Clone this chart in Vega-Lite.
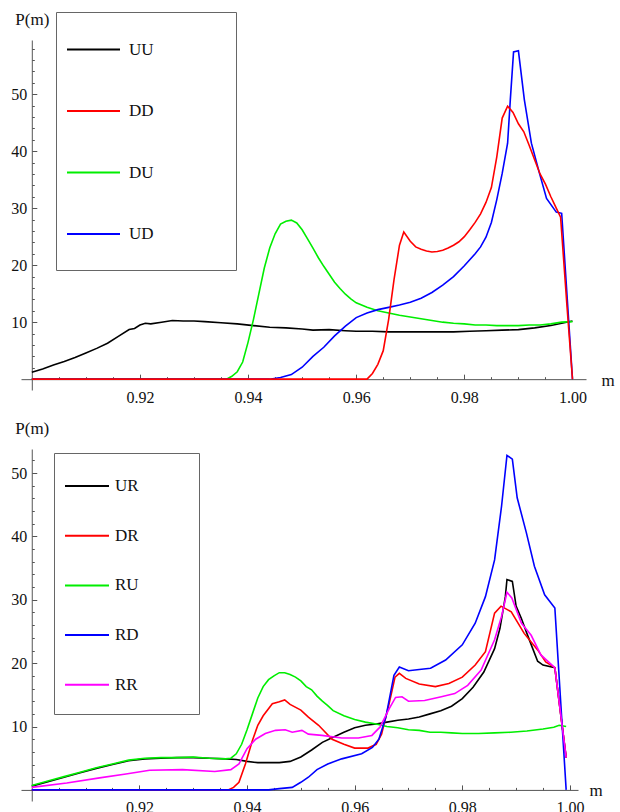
{
  "$schema": "https://vega.github.io/schema/vega-lite/v6.json",
  "background": "white",
  "padding": {"left": 10, "top": 10, "right": 0, "bottom": 0},
  "spacing": 13,
  "resolve": {"scale": {"color": "independent"}, "legend": {"color": "independent"}},
  "config": {
    "view": {"stroke": null},
    "font": "Liberation Serif",
    "axis": {
      "grid": false,
      "domainColor": "#555555",
      "tickColor": "#555555",
      "labelColor": "#111111",
      "labelFont": "Liberation Serif",
      "labelFontSize": 16,
      "titleFont": "Liberation Serif",
      "titleFontSize": 17,
      "titleFontWeight": "normal",
      "titleColor": "#111111",
      "labelFlush": false,
      "labelOverlap": false
    },
    "legend": {
      "orient": "none",
      "symbolType": "stroke",
      "symbolStrokeWidth": 2,
      "labelFont": "Liberation Serif",
      "labelFontSize": 17,
      "labelColor": "#111111",
      "labelLimit": 400,
      "strokeColor": "#666666",
      "fillColor": "white",
      "padding": 10,
      "titleOrient": "bottom",
      "titleColor": "white"
    }
  },
  "datasets": {
    "top": [
      {"m":0.900,"p":1.2,"s":"UU"},{"m":0.902,"p":1.8,"s":"UU"},{"m":0.904,"p":2.5,"s":"UU"},{"m":0.906,"p":3.1,"s":"UU"},{"m":0.908,"p":3.8,"s":"UU"},{"m":0.910,"p":4.6,"s":"UU"},{"m":0.912,"p":5.4,"s":"UU"},{"m":0.914,"p":6.3,"s":"UU"},{"m":0.916,"p":7.5,"s":"UU"},{"m":0.918,"p":8.7,"s":"UU"},{"m":0.919,"p":8.9,"s":"UU"},{"m":0.920,"p":9.5,"s":"UU"},{"m":0.921,"p":9.8,"s":"UU"},{"m":0.922,"p":9.7,"s":"UU"},{"m":0.924,"p":10.0,"s":"UU"},{"m":0.926,"p":10.3,"s":"UU"},{"m":0.928,"p":10.2,"s":"UU"},{"m":0.930,"p":10.2,"s":"UU"},{"m":0.932,"p":10.1,"s":"UU"},{"m":0.935,"p":9.9,"s":"UU"},{"m":0.938,"p":9.7,"s":"UU"},{"m":0.941,"p":9.4,"s":"UU"},{"m":0.944,"p":9.1,"s":"UU"},{"m":0.947,"p":9.0,"s":"UU"},{"m":0.950,"p":8.8,"s":"UU"},{"m":0.952,"p":8.6,"s":"UU"},{"m":0.955,"p":8.7,"s":"UU"},{"m":0.958,"p":8.5,"s":"UU"},{"m":0.960,"p":8.4,"s":"UU"},{"m":0.963,"p":8.4,"s":"UU"},{"m":0.966,"p":8.3,"s":"UU"},{"m":0.969,"p":8.3,"s":"UU"},{"m":0.972,"p":8.3,"s":"UU"},{"m":0.975,"p":8.3,"s":"UU"},{"m":0.978,"p":8.3,"s":"UU"},{"m":0.981,"p":8.4,"s":"UU"},{"m":0.984,"p":8.5,"s":"UU"},{"m":0.987,"p":8.6,"s":"UU"},{"m":0.990,"p":8.7,"s":"UU"},{"m":0.993,"p":9.0,"s":"UU"},{"m":0.996,"p":9.4,"s":"UU"},{"m":0.998,"p":9.8,"s":"UU"},{"m":1.000,"p":10.2,"s":"UU"},
      {"m":0.900,"p":0,"s":"DU"},{"m":0.936,"p":0,"s":"DU"},{"m":0.937,"p":0.5,"s":"DU"},{"m":0.938,"p":1.3,"s":"DU"},{"m":0.939,"p":3.0,"s":"DU"},{"m":0.940,"p":6.5,"s":"DU"},{"m":0.941,"p":10.5,"s":"DU"},{"m":0.942,"p":15.0,"s":"DU"},{"m":0.943,"p":19.5,"s":"DU"},{"m":0.944,"p":23.0,"s":"DU"},{"m":0.945,"p":25.5,"s":"DU"},{"m":0.946,"p":27.2,"s":"DU"},{"m":0.947,"p":27.7,"s":"DU"},{"m":0.948,"p":27.9,"s":"DU"},{"m":0.949,"p":27.4,"s":"DU"},{"m":0.950,"p":26.2,"s":"DU"},{"m":0.951,"p":24.6,"s":"DU"},{"m":0.952,"p":23.0,"s":"DU"},{"m":0.953,"p":21.3,"s":"DU"},{"m":0.954,"p":19.8,"s":"DU"},{"m":0.955,"p":18.4,"s":"DU"},{"m":0.956,"p":17.0,"s":"DU"},{"m":0.957,"p":15.9,"s":"DU"},{"m":0.958,"p":14.9,"s":"DU"},{"m":0.959,"p":14.1,"s":"DU"},{"m":0.960,"p":13.4,"s":"DU"},{"m":0.961,"p":13.0,"s":"DU"},{"m":0.962,"p":12.6,"s":"DU"},{"m":0.963,"p":12.3,"s":"DU"},{"m":0.964,"p":12.0,"s":"DU"},{"m":0.966,"p":11.6,"s":"DU"},{"m":0.968,"p":11.2,"s":"DU"},{"m":0.970,"p":10.9,"s":"DU"},{"m":0.972,"p":10.6,"s":"DU"},{"m":0.974,"p":10.3,"s":"DU"},{"m":0.976,"p":10.0,"s":"DU"},{"m":0.978,"p":9.8,"s":"DU"},{"m":0.980,"p":9.7,"s":"DU"},{"m":0.982,"p":9.5,"s":"DU"},{"m":0.984,"p":9.5,"s":"DU"},{"m":0.986,"p":9.4,"s":"DU"},{"m":0.988,"p":9.4,"s":"DU"},{"m":0.990,"p":9.4,"s":"DU"},{"m":0.992,"p":9.5,"s":"DU"},{"m":0.994,"p":9.5,"s":"DU"},{"m":0.996,"p":9.7,"s":"DU"},{"m":0.998,"p":10.0,"s":"DU"},{"m":1.000,"p":10.1,"s":"DU"},
      {"m":0.900,"p":0,"s":"UD"},{"m":0.944,"p":0,"s":"UD"},{"m":0.946,"p":0.3,"s":"UD"},{"m":0.948,"p":0.8,"s":"UD"},{"m":0.950,"p":2.1,"s":"UD"},{"m":0.952,"p":4.0,"s":"UD"},{"m":0.954,"p":5.6,"s":"UD"},{"m":0.956,"p":7.6,"s":"UD"},{"m":0.958,"p":9.3,"s":"UD"},{"m":0.960,"p":10.8,"s":"UD"},{"m":0.962,"p":11.6,"s":"UD"},{"m":0.964,"p":12.2,"s":"UD"},{"m":0.966,"p":12.6,"s":"UD"},{"m":0.968,"p":13.0,"s":"UD"},{"m":0.970,"p":13.5,"s":"UD"},{"m":0.972,"p":14.2,"s":"UD"},{"m":0.974,"p":15.2,"s":"UD"},{"m":0.976,"p":16.5,"s":"UD"},{"m":0.978,"p":18.0,"s":"UD"},{"m":0.980,"p":19.9,"s":"UD"},{"m":0.982,"p":22.0,"s":"UD"},{"m":0.983,"p":23.2,"s":"UD"},{"m":0.984,"p":24.9,"s":"UD"},{"m":0.985,"p":27.5,"s":"UD"},{"m":0.986,"p":31.5,"s":"UD"},{"m":0.987,"p":36.1,"s":"UD"},{"m":0.988,"p":41.4,"s":"UD"},{"m":0.9885,"p":49.0,"s":"UD"},{"m":0.9891,"p":57.4,"s":"UD"},{"m":0.990,"p":57.6,"s":"UD"},{"m":0.9911,"p":49.0,"s":"UD"},{"m":0.9924,"p":41.4,"s":"UD"},{"m":0.9939,"p":36.1,"s":"UD"},{"m":0.9952,"p":31.7,"s":"UD"},{"m":0.997,"p":29.3,"s":"UD"},{"m":0.998,"p":29.1,"s":"UD"},{"m":1.000,"p":0,"s":"UD"},
      {"m":0.900,"p":0,"s":"DD"},{"m":0.962,"p":0,"s":"DD"},{"m":0.963,"p":1.0,"s":"DD"},{"m":0.964,"p":2.6,"s":"DD"},{"m":0.965,"p":5.0,"s":"DD"},{"m":0.966,"p":10.5,"s":"DD"},{"m":0.967,"p":17.5,"s":"DD"},{"m":0.968,"p":23.5,"s":"DD"},{"m":0.9688,"p":25.8,"s":"DD"},{"m":0.970,"p":24.2,"s":"DD"},{"m":0.971,"p":23.2,"s":"DD"},{"m":0.972,"p":22.8,"s":"DD"},{"m":0.973,"p":22.5,"s":"DD"},{"m":0.974,"p":22.3,"s":"DD"},{"m":0.975,"p":22.4,"s":"DD"},{"m":0.976,"p":22.6,"s":"DD"},{"m":0.977,"p":23.0,"s":"DD"},{"m":0.978,"p":23.5,"s":"DD"},{"m":0.979,"p":24.1,"s":"DD"},{"m":0.980,"p":25.0,"s":"DD"},{"m":0.981,"p":26.2,"s":"DD"},{"m":0.982,"p":27.5,"s":"DD"},{"m":0.983,"p":29.0,"s":"DD"},{"m":0.984,"p":31.0,"s":"DD"},{"m":0.985,"p":33.6,"s":"DD"},{"m":0.986,"p":39.0,"s":"DD"},{"m":0.987,"p":45.8,"s":"DD"},{"m":0.988,"p":47.9,"s":"DD"},{"m":0.989,"p":46.8,"s":"DD"},{"m":0.990,"p":44.8,"s":"DD"},{"m":0.991,"p":43.4,"s":"DD"},{"m":0.992,"p":41.0,"s":"DD"},{"m":0.993,"p":38.5,"s":"DD"},{"m":0.994,"p":36.0,"s":"DD"},{"m":0.995,"p":34.2,"s":"DD"},{"m":0.996,"p":32.0,"s":"DD"},{"m":0.997,"p":30.0,"s":"DD"},{"m":0.9978,"p":28.4,"s":"DD"},{"m":0.999,"p":12.6,"s":"DD"},{"m":1.000,"p":0,"s":"DD"}
    ],
    "bottom": [
      {"m":0.900,"p":0.6,"s":"UR"},{"m":0.903,"p":1.3,"s":"UR"},{"m":0.906,"p":2.0,"s":"UR"},{"m":0.909,"p":2.7,"s":"UR"},{"m":0.912,"p":3.4,"s":"UR"},{"m":0.915,"p":4.0,"s":"UR"},{"m":0.918,"p":4.6,"s":"UR"},{"m":0.921,"p":4.9,"s":"UR"},{"m":0.924,"p":5.0,"s":"UR"},{"m":0.927,"p":5.1,"s":"UR"},{"m":0.930,"p":5.1,"s":"UR"},{"m":0.933,"p":5.0,"s":"UR"},{"m":0.936,"p":4.9,"s":"UR"},{"m":0.938,"p":4.8,"s":"UR"},{"m":0.940,"p":4.5,"s":"UR"},{"m":0.942,"p":4.3,"s":"UR"},{"m":0.944,"p":4.3,"s":"UR"},{"m":0.946,"p":4.3,"s":"UR"},{"m":0.948,"p":4.5,"s":"UR"},{"m":0.950,"p":5.2,"s":"UR"},{"m":0.952,"p":6.3,"s":"UR"},{"m":0.954,"p":7.5,"s":"UR"},{"m":0.956,"p":8.3,"s":"UR"},{"m":0.958,"p":9.1,"s":"UR"},{"m":0.960,"p":9.8,"s":"UR"},{"m":0.962,"p":10.2,"s":"UR"},{"m":0.964,"p":10.4,"s":"UR"},{"m":0.966,"p":10.7,"s":"UR"},{"m":0.968,"p":11.0,"s":"UR"},{"m":0.970,"p":11.2,"s":"UR"},{"m":0.972,"p":11.5,"s":"UR"},{"m":0.974,"p":12.0,"s":"UR"},{"m":0.976,"p":12.5,"s":"UR"},{"m":0.978,"p":13.2,"s":"UR"},{"m":0.980,"p":14.4,"s":"UR"},{"m":0.982,"p":16.2,"s":"UR"},{"m":0.984,"p":18.6,"s":"UR"},{"m":0.986,"p":22.3,"s":"UR"},{"m":0.987,"p":25.5,"s":"UR"},{"m":0.988,"p":30.5,"s":"UR"},{"m":0.9883,"p":33.2,"s":"UR"},{"m":0.9893,"p":32.9,"s":"UR"},{"m":0.990,"p":29.0,"s":"UR"},{"m":0.991,"p":27.0,"s":"UR"},{"m":0.992,"p":24.7,"s":"UR"},{"m":0.993,"p":22.5,"s":"UR"},{"m":0.994,"p":20.3,"s":"UR"},{"m":0.995,"p":19.7,"s":"UR"},{"m":0.9972,"p":19.3,"s":"UR"},{"m":0.9993,"p":5.1,"s":"UR"},
      {"m":0.900,"p":0,"s":"DR"},{"m":0.9365,"p":0,"s":"DR"},{"m":0.9375,"p":0.4,"s":"DR"},{"m":0.9385,"p":1.2,"s":"DR"},{"m":0.9397,"p":4.1,"s":"DR"},{"m":0.941,"p":7.8,"s":"DR"},{"m":0.942,"p":10.2,"s":"DR"},{"m":0.943,"p":11.7,"s":"DR"},{"m":0.9447,"p":13.6,"s":"DR"},{"m":0.946,"p":13.9,"s":"DR"},{"m":0.947,"p":14.2,"s":"DR"},{"m":0.948,"p":13.5,"s":"DR"},{"m":0.950,"p":12.6,"s":"DR"},{"m":0.9514,"p":11.5,"s":"DR"},{"m":0.9533,"p":10.2,"s":"DR"},{"m":0.9558,"p":8.0,"s":"DR"},{"m":0.958,"p":7.2,"s":"DR"},{"m":0.960,"p":6.6,"s":"DR"},{"m":0.9625,"p":6.6,"s":"DR"},{"m":0.964,"p":7.2,"s":"DR"},{"m":0.965,"p":8.8,"s":"DR"},{"m":0.9664,"p":13.6,"s":"DR"},{"m":0.9675,"p":17.8,"s":"DR"},{"m":0.9683,"p":18.4,"s":"DR"},{"m":0.9695,"p":17.6,"s":"DR"},{"m":0.972,"p":16.7,"s":"DR"},{"m":0.975,"p":16.3,"s":"DR"},{"m":0.9775,"p":16.8,"s":"DR"},{"m":0.980,"p":17.8,"s":"DR"},{"m":0.9824,"p":19.7,"s":"DR"},{"m":0.9843,"p":21.8,"s":"DR"},{"m":0.986,"p":27.9,"s":"DR"},{"m":0.9872,"p":29.0,"s":"DR"},{"m":0.9891,"p":28.1,"s":"DR"},{"m":0.9915,"p":24.7,"s":"DR"},{"m":0.994,"p":22.1,"s":"DR"},{"m":0.9955,"p":20.2,"s":"DR"},{"m":0.9972,"p":19.3,"s":"DR"},{"m":0.9993,"p":5.1,"s":"DR"},
      {"m":0.900,"p":0.7,"s":"RU"},{"m":0.903,"p":1.4,"s":"RU"},{"m":0.906,"p":2.1,"s":"RU"},{"m":0.909,"p":2.8,"s":"RU"},{"m":0.912,"p":3.5,"s":"RU"},{"m":0.915,"p":4.1,"s":"RU"},{"m":0.918,"p":4.7,"s":"RU"},{"m":0.921,"p":5.0,"s":"RU"},{"m":0.924,"p":5.1,"s":"RU"},{"m":0.927,"p":5.1,"s":"RU"},{"m":0.930,"p":5.2,"s":"RU"},{"m":0.933,"p":5.0,"s":"RU"},{"m":0.936,"p":4.9,"s":"RU"},{"m":0.937,"p":5.0,"s":"RU"},{"m":0.938,"p":5.7,"s":"RU"},{"m":0.939,"p":7.2,"s":"RU"},{"m":0.940,"p":9.5,"s":"RU"},{"m":0.941,"p":12.0,"s":"RU"},{"m":0.942,"p":14.5,"s":"RU"},{"m":0.943,"p":16.3,"s":"RU"},{"m":0.944,"p":17.4,"s":"RU"},{"m":0.945,"p":18.0,"s":"RU"},{"m":0.946,"p":18.5,"s":"RU"},{"m":0.947,"p":18.5,"s":"RU"},{"m":0.948,"p":18.2,"s":"RU"},{"m":0.949,"p":17.8,"s":"RU"},{"m":0.950,"p":17.2,"s":"RU"},{"m":0.951,"p":16.3,"s":"RU"},{"m":0.952,"p":15.8,"s":"RU"},{"m":0.953,"p":14.8,"s":"RU"},{"m":0.954,"p":14.0,"s":"RU"},{"m":0.955,"p":13.3,"s":"RU"},{"m":0.956,"p":12.5,"s":"RU"},{"m":0.958,"p":11.7,"s":"RU"},{"m":0.960,"p":11.1,"s":"RU"},{"m":0.962,"p":10.7,"s":"RU"},{"m":0.964,"p":10.4,"s":"RU"},{"m":0.966,"p":10.0,"s":"RU"},{"m":0.968,"p":9.8,"s":"RU"},{"m":0.970,"p":9.5,"s":"RU"},{"m":0.972,"p":9.4,"s":"RU"},{"m":0.974,"p":9.1,"s":"RU"},{"m":0.976,"p":9.1,"s":"RU"},{"m":0.978,"p":9.0,"s":"RU"},{"m":0.980,"p":8.9,"s":"RU"},{"m":0.983,"p":8.9,"s":"RU"},{"m":0.986,"p":9.0,"s":"RU"},{"m":0.989,"p":9.1,"s":"RU"},{"m":0.992,"p":9.3,"s":"RU"},{"m":0.995,"p":9.6,"s":"RU"},{"m":0.997,"p":9.9,"s":"RU"},{"m":0.998,"p":10.2,"s":"RU"},{"m":0.9993,"p":10.0,"s":"RU"},
      {"m":0.900,"p":0,"s":"RD"},{"m":0.944,"p":0,"s":"RD"},{"m":0.946,"p":0.2,"s":"RD"},{"m":0.9484,"p":0.4,"s":"RD"},{"m":0.950,"p":1.2,"s":"RD"},{"m":0.9514,"p":2.0,"s":"RD"},{"m":0.953,"p":3.2,"s":"RD"},{"m":0.955,"p":4.1,"s":"RD"},{"m":0.9576,"p":4.9,"s":"RD"},{"m":0.9613,"p":5.7,"s":"RD"},{"m":0.9633,"p":6.7,"s":"RD"},{"m":0.9645,"p":8.0,"s":"RD"},{"m":0.9658,"p":11.5,"s":"RD"},{"m":0.9673,"p":18.1,"s":"RD"},{"m":0.9683,"p":19.4,"s":"RD"},{"m":0.970,"p":18.8,"s":"RD"},{"m":0.972,"p":19.0,"s":"RD"},{"m":0.9741,"p":19.2,"s":"RD"},{"m":0.9769,"p":20.5,"s":"RD"},{"m":0.980,"p":22.9,"s":"RD"},{"m":0.9824,"p":26.3,"s":"RD"},{"m":0.9843,"p":30.5,"s":"RD"},{"m":0.986,"p":36.3,"s":"RD"},{"m":0.9873,"p":44.8,"s":"RD"},{"m":0.9883,"p":52.8,"s":"RD"},{"m":0.9893,"p":52.2,"s":"RD"},{"m":0.9902,"p":46.1,"s":"RD"},{"m":0.9919,"p":40.6,"s":"RD"},{"m":0.9934,"p":35.3,"s":"RD"},{"m":0.9953,"p":30.8,"s":"RD"},{"m":0.9972,"p":28.7,"s":"RD"},{"m":0.9993,"p":0,"s":"RD"},
      {"m":0.900,"p":0.4,"s":"RR"},{"m":0.9065,"p":1.1,"s":"RR"},{"m":0.9126,"p":1.9,"s":"RR"},{"m":0.9175,"p":2.5,"s":"RR"},{"m":0.9219,"p":3.1,"s":"RR"},{"m":0.928,"p":3.2,"s":"RR"},{"m":0.934,"p":2.9,"s":"RR"},{"m":0.937,"p":3.2,"s":"RR"},{"m":0.9385,"p":4.1,"s":"RR"},{"m":0.940,"p":6.5,"s":"RR"},{"m":0.9416,"p":8.0,"s":"RR"},{"m":0.9434,"p":8.9,"s":"RR"},{"m":0.9453,"p":9.4,"s":"RR"},{"m":0.9471,"p":9.5,"s":"RR"},{"m":0.9484,"p":9.1,"s":"RR"},{"m":0.9502,"p":9.4,"s":"RR"},{"m":0.9514,"p":8.8,"s":"RR"},{"m":0.9539,"p":8.6,"s":"RR"},{"m":0.9576,"p":8.2,"s":"RR"},{"m":0.9607,"p":8.2,"s":"RR"},{"m":0.9632,"p":8.6,"s":"RR"},{"m":0.9647,"p":9.9,"s":"RR"},{"m":0.9664,"p":12.8,"s":"RR"},{"m":0.9676,"p":14.6,"s":"RR"},{"m":0.9688,"p":14.7,"s":"RR"},{"m":0.970,"p":14.0,"s":"RR"},{"m":0.973,"p":14.1,"s":"RR"},{"m":0.9761,"p":14.7,"s":"RR"},{"m":0.9786,"p":15.2,"s":"RR"},{"m":0.981,"p":16.5,"s":"RR"},{"m":0.9835,"p":18.9,"s":"RR"},{"m":0.986,"p":23.7,"s":"RR"},{"m":0.9873,"p":27.4,"s":"RR"},{"m":0.9883,"p":31.2,"s":"RR"},{"m":0.9892,"p":30.3,"s":"RR"},{"m":0.991,"p":26.3,"s":"RR"},{"m":0.9928,"p":24.4,"s":"RR"},{"m":0.9946,"p":21.3,"s":"RR"},{"m":0.9972,"p":19.3,"s":"RR"},{"m":0.9993,"p":5.1,"s":"RR"}
    ]
  },
  "vconcat": [
    {
      "width": 565,
      "height": 350,
      "data": {"name": "top"},
      "layer": [
        {
          "mark": {"type": "line", "strokeWidth": 1.6},
          "encoding": {
            "x": {"field": "m", "type": "quantitative",
              "scale": {"domain": [0.898, 1.0025], "nice": false, "zero": false},
              "axis": {"orient": "bottom", "offset": -10.83, "values": [0.92, 0.94, 0.96, 0.98, 1.0], "format": ".2f",
                "tickSize": -5, "labelPadding": 15, "title": "m", "titleX": 580, "titleY": 6, "titleAlign": "left", "titleBaseline": "alphabetic"}},
            "y": {"field": "p", "type": "quantitative",
              "scale": {"domain": [-1.9, 59.5], "nice": false, "zero": false},
              "axis": {"orient": "left", "offset": -10.81, "values": [10, 20, 30, 40, 50],
                "tickSize": -5, "labelPadding": 10, "title": "P(m)", "titleAngle": 0, "titleX": 0, "titleY": -16, "titleAlign": "center", "titleBaseline": "alphabetic"}},
            "color": {"field": "s", "type": "nominal",
              "scale": {"domain": ["UU", "DD", "DU", "UD"], "range": ["#000000", "#ff0000", "#00ee00", "#0000ff"]},
              "legend": {"legendX": 35, "legendY": -28, "symbolSize": 2809, "labelOffset": 8, "rowPadding": 25.5,
                "title": "\u2800", "titleFontSize": 12, "titlePadding": 7,
                "labelExpr": "datum.label + '\u00a0\u00a0\u00a0\u00a0\u00a0\u00a0\u00a0\u00a0\u00a0\u00a0\u00a0\u00a0\u00a0\u00a0\u2800'"}}
          }
        },
        {
          "mark": {"type": "point", "opacity": 0},
          "encoding": {
            "x": {"field": "m", "type": "quantitative",
              "scale": {"domain": [0.898, 1.0025], "nice": false, "zero": false},
              "axis": {"orient": "bottom", "offset": -10.83, "values": [0.905, 0.91, 0.915, 0.925, 0.93, 0.935, 0.945, 0.95, 0.955, 0.965, 0.97, 0.975, 0.985, 0.99, 0.995],
                "tickSize": -2.5, "labels": false, "domain": false, "title": null}},
            "y": {"field": "p", "type": "quantitative",
              "scale": {"domain": [-1.9, 59.5], "nice": false, "zero": false},
              "axis": {"orient": "left", "offset": -10.81, "values": [2, 4, 6, 8, 12, 14, 16, 18, 22, 24, 26, 28, 32, 34, 36, 38, 42, 44, 46, 48, 52, 54, 56, 58],
                "tickSize": -2.5, "labels": false, "domain": false, "title": null}}
          }
        }
      ],
      "resolve": {"axis": {"x": "independent", "y": "independent"}}
    },
    {
      "width": 557,
      "height": 352,
      "data": {"name": "bottom"},
      "layer": [
        {
          "mark": {"type": "line", "strokeWidth": 1.6},
          "encoding": {
            "x": {"field": "m", "type": "quantitative",
              "scale": {"domain": [0.898, 1.0015], "nice": false, "zero": false},
              "axis": {"orient": "bottom", "offset": -11.09, "values": [0.92, 0.94, 0.96, 0.98, 1.0], "format": ".2f",
                "tickSize": -5, "labelPadding": 15, "title": "m", "titleX": 568, "titleY": 6, "titleAlign": "left", "titleBaseline": "alphabetic"}},
            "y": {"field": "p", "type": "quantitative",
              "scale": {"domain": [-1.75, 53.8], "nice": false, "zero": false},
              "axis": {"orient": "left", "offset": -10.76, "values": [10, 20, 30, 40, 50],
                "tickSize": -5, "labelPadding": 10, "title": "P(m)", "titleAngle": 0, "titleX": 0, "titleY": -16, "titleAlign": "center", "titleBaseline": "alphabetic"}},
            "color": {"field": "s", "type": "nominal",
              "scale": {"domain": ["UR", "DR", "RU", "RD", "RR"], "range": ["#000000", "#ff0000", "#00ee00", "#0000ff", "#ff00ff"]},
              "legend": {"legendX": 33, "legendY": 4, "symbolSize": 1936, "labelOffset": 5, "rowPadding": 18.7,
                "title": "\u2800", "titleFontSize": 6, "titlePadding": 5,
                "labelExpr": "datum.label + '\u00a0\u00a0\u00a0\u00a0\u00a0\u00a0\u00a0\u00a0\u00a0\u2800'"}}
          }
        },
        {
          "mark": {"type": "point", "opacity": 0},
          "encoding": {
            "x": {"field": "m", "type": "quantitative",
              "scale": {"domain": [0.898, 1.0015], "nice": false, "zero": false},
              "axis": {"orient": "bottom", "offset": -11.09, "values": [0.905, 0.91, 0.915, 0.925, 0.93, 0.935, 0.945, 0.95, 0.955, 0.965, 0.97, 0.975, 0.985, 0.99, 0.995],
                "tickSize": -2.5, "labels": false, "domain": false, "title": null}},
            "y": {"field": "p", "type": "quantitative",
              "scale": {"domain": [-1.75, 53.8], "nice": false, "zero": false},
              "axis": {"orient": "left", "offset": -10.76, "values": [2, 4, 6, 8, 12, 14, 16, 18, 22, 24, 26, 28, 32, 34, 36, 38, 42, 44, 46, 48, 52],
                "tickSize": -2.5, "labels": false, "domain": false, "title": null}}
          }
        }
      ],
      "resolve": {"axis": {"x": "independent", "y": "independent"}}
    }
  ]
}
